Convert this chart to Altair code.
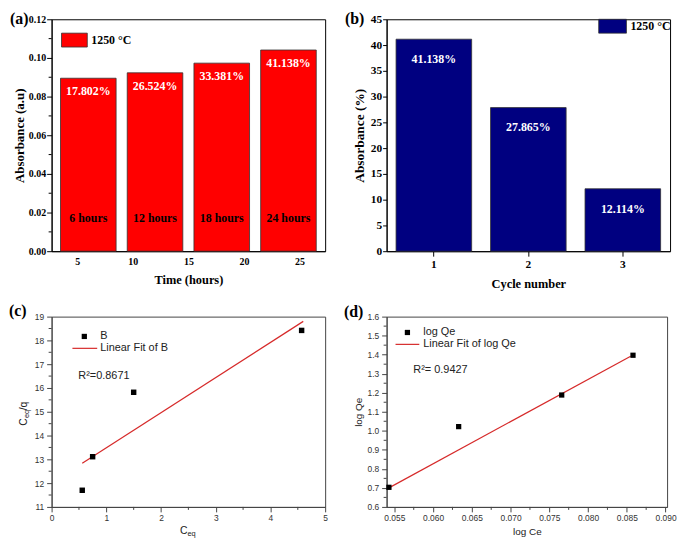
import altair as alt
import pandas as pd

SERIF = "Liberation Serif"
SANS = "Liberation Sans"
RED = "#ff0000"
NAVY = "#000080"
FIT = "#d62a2a"
INK = "#222222"
AX = "#444444"

# ---------------- data ----------------
# (a)
hours = [6, 12, 18, 24]
absorbance_a = [0.0895, 0.0923, 0.0973, 0.1041]
percent_a = ["17.802%", "26.524%", "33.381%", "41.138%"]
hour_labels = ["6 hours", "12 hours", "18 hours", "24 hours"]
a_x_ticks = [5, 10, 15, 20, 25]
a_y_ticks = [0.0, 0.02, 0.04, 0.06, 0.08, 0.10, 0.12]
a_y_minor = [0.01, 0.03, 0.05, 0.07, 0.09, 0.11]
legend_label = ["1250 °C"]

# (b)
cycles = [1, 2, 3]
absorbance_b = [41.138, 27.865, 12.114]
percent_b = ["41.138%", "27.865%", "12.114%"]
b_y_ticks = [0, 5, 10, 15, 20, 25, 30, 35, 40, 45]

# (c)
c_eq = [0.56, 0.75, 1.50, 4.57]
c_eq_q = [11.70, 13.11, 15.82, 18.42]
fit_c_x = [0.56, 4.60]
fit_c_y = [12.84, 18.80]
c_x_ticks = [0, 1, 2, 3, 4, 5]
c_x_minor = [0.5, 1.5, 2.5, 3.5, 4.5]
c_y_ticks = [11, 12, 13, 14, 15, 16, 17, 18, 19]
c_y_minor = [11.5, 12.5, 13.5, 14.5, 15.5, 16.5, 17.5, 18.5]

# (d)
log_ce = [0.0543, 0.0633, 0.0766, 0.0858]
log_qe = [0.703, 1.022, 1.188, 1.397]
fit_d_x = [0.0543, 0.0855]
fit_d_y = [0.700, 1.392]
d_x_ticks = [0.055, 0.060, 0.065, 0.070, 0.075, 0.080, 0.085, 0.090]
d_x_minor = [0.0575, 0.0625, 0.0675, 0.0725, 0.0775, 0.0825, 0.0875]
d_y_ticks = [0.6, 0.7, 0.8, 0.9, 1.0, 1.1, 1.2, 1.3, 1.4, 1.5, 1.6]
d_y_minor = [0.65, 0.75, 0.85, 0.95, 1.05, 1.15, 1.25, 1.35, 1.45, 1.55]

# ---------------- sizes ----------------
WA, HA = 276, 234
WB, HB = 286, 234
WC, HC = 276, 192
WD, HD = 283, 192


def one(text):
    return pd.DataFrame({"t": [text]})


def tag(text, dx, dy):
    return alt.Chart(one(text)).mark_text(
        font=SERIF, fontWeight="bold", fontSize=16, color="black",
        align="left", baseline="middle"
    ).encode(x=alt.value(dx), y=alt.value(dy), text="t:N")


def serif_axis(title, values, fmt=None, ticks=True, tick_size=5, label_size=10,
               title_size=13, label_pad=1, title_pad=1, angle=None):
    kw = dict(title=title, grid=False, domainColor="black",
              domainWidth=1, ticks=ticks, tickSize=tick_size if ticks else 0,
              tickColor="black", tickWidth=1,
              labelFont=SERIF, labelFontWeight="bold", labelFontSize=label_size,
              labelColor="black", labelPadding=label_pad, labelFlush=False,
              labelOverlap=False,
              titleFont=SERIF, titleFontWeight="bold", titleFontSize=title_size,
              titleColor="black", titlePadding=title_pad)
    if values is not None:
        kw["values"] = values
    if fmt:
        kw["format"] = fmt
    if angle is not None:
        kw["labelAngle"] = angle
    return alt.Axis(**kw)


def sans_axis(values, fmt, title=None, label_pad=3, title_pad=2):
    kw = dict(values=values, format=fmt, grid=False, domainColor=AX,
              domainWidth=1, tickColor=AX, tickSize=5, tickWidth=1,
              labelFont=SANS, labelFontSize=8.5, labelColor="#333333",
              labelPadding=label_pad, labelFlush=False, labelOverlap=False,
              titleFont=SANS, titleFontWeight="normal", titleFontSize=10,
              titleColor=INK, titlePadding=title_pad)
    kw["title"] = title
    return alt.Axis(**kw)


# ---------------- panel (a) ----------------
dfa = pd.DataFrame({"hours": hours, "absorbance": absorbance_a,
                    "pct": percent_a, "label": hour_labels})
xa_scale = alt.Scale(domain=[2.7, 27.3], nice=False, zero=False)
ya_scale = alt.Scale(domain=[0, 0.12], nice=False)
xa_axis = serif_axis("Time (hours)", a_x_ticks, ticks=False, label_size=10,
                     title_size=12.5, label_pad=5, title_pad=8)
ya_axis = serif_axis("Absorbance (a.u)", a_y_ticks, fmt=".2f", label_size=10,
                     title_size=13, label_pad=1, title_pad=2)

bars_a = alt.Chart(dfa).transform_calculate(
    x0="datum.hours - 2.5", x1="datum.hours + 2.5"
).mark_bar(color=RED, stroke="#333333", strokeWidth=0.8).encode(
    x=alt.X("x0:Q", scale=xa_scale, axis=xa_axis),
    x2="x1:Q",
    y=alt.Y("absorbance:Q", scale=ya_scale, axis=ya_axis),
    y2=alt.datum(0),
)
pct_text_a = alt.Chart(dfa).mark_text(
    font=SERIF, fontWeight="bold", fontSize=12, color="white",
    baseline="middle", dy=13
).encode(
    x=alt.X("hours:Q", scale=xa_scale, axis=xa_axis),
    y=alt.Y("absorbance:Q", scale=ya_scale, axis=ya_axis),
    text="pct:N",
)
hour_text_a = alt.Chart(dfa).mark_text(
    font=SERIF, fontWeight="bold", fontSize=12, color="black", baseline="middle"
).encode(
    x=alt.X("hours:Q", scale=xa_scale, axis=xa_axis),
    y=alt.value(HA - 33),
    text="label:N",
)
minor_a = alt.Chart(pd.DataFrame({"v": a_y_minor})).mark_rule(
    color="black", strokeWidth=1
).encode(
    y=alt.Y("v:Q", scale=ya_scale, axis=ya_axis),
    x=alt.value(-3), x2=alt.value(0),
)
leg_box_a = alt.Chart(one(legend_label[0])).mark_rect(
    color=RED, stroke="#333333", strokeWidth=0.8
).encode(x=alt.value(10), x2=alt.value(36), y=alt.value(14), y2=alt.value(28))
leg_txt_a = alt.Chart(one(legend_label[0])).mark_text(
    font=SERIF, fontWeight="bold", fontSize=12, color="black",
    align="left", baseline="middle"
).encode(x=alt.value(40), y=alt.value(21), text="t:N")

panel_a = alt.layer(
    bars_a, pct_text_a, hour_text_a, minor_a, leg_box_a, leg_txt_a,
    tag("(a)", -42, 0)
).properties(width=WA, height=HA,
             view=alt.ViewBackground(stroke="black", strokeWidth=1))

# ---------------- panel (b) ----------------
dfb = pd.DataFrame({"cycle": cycles, "absorbance": absorbance_b, "pct": percent_b})
xb_scale = alt.Scale(paddingInner=0.2, paddingOuter=0.1)
yb_scale = alt.Scale(domain=[0, 45], nice=False)
xb_axis = serif_axis("Cycle number", None, tick_size=5, label_size=11.5,
                     title_size=12.5, label_pad=2, title_pad=8, angle=0)
yb_axis = serif_axis("Absorbance (%)", b_y_ticks, tick_size=4, label_size=11.5,
                     title_size=13.5, label_pad=1, title_pad=4)

bars_b = alt.Chart(dfb).mark_bar(color=NAVY, stroke="#333333", strokeWidth=0.8).encode(
    x=alt.X("cycle:O", scale=xb_scale, axis=xb_axis),
    y=alt.Y("absorbance:Q", scale=yb_scale, axis=yb_axis),
)
pct_text_b = alt.Chart(dfb).mark_text(
    font=SERIF, fontWeight="bold", fontSize=12, color="white",
    baseline="middle", dy=20
).encode(
    x=alt.X("cycle:O", scale=xb_scale, axis=xb_axis),
    y=alt.Y("absorbance:Q", scale=yb_scale, axis=yb_axis),
    text="pct:N",
)
leg_box_b = alt.Chart(one(legend_label[0])).mark_rect(
    color=NAVY, stroke="#333333", strokeWidth=0.8
).encode(x=alt.value(WB - 72), x2=alt.value(WB - 44), y=alt.value(0), y2=alt.value(14))
leg_txt_b = alt.Chart(one(legend_label[0])).mark_text(
    font=SERIF, fontWeight="bold", fontSize=12, color="black",
    align="left", baseline="middle"
).encode(x=alt.value(WB - 40), y=alt.value(7), text="t:N")

panel_b = alt.layer(
    bars_b, pct_text_b, leg_box_b, leg_txt_b, tag("(b)", -42, 0)
).properties(width=WB, height=HB,
             view=alt.ViewBackground(stroke="black", strokeWidth=1))

# ---------------- panel (c) ----------------
dfc = pd.DataFrame({"x": c_eq, "y": c_eq_q})
dfc_fit = pd.DataFrame({"x": fit_c_x, "y": fit_c_y})
xc_scale = alt.Scale(domain=[0, 5], nice=False, zero=False)
yc_scale = alt.Scale(domain=[11, 19], nice=False, zero=False)
xc_axis = sans_axis(c_x_ticks, "d", title=None, label_pad=2)
yc_axis = sans_axis(c_y_ticks, "d", title=None, label_pad=3)

pts_c = alt.Chart(dfc).mark_square(size=30, color="black", opacity=1).encode(
    x=alt.X("x:Q", scale=xc_scale, axis=xc_axis),
    y=alt.Y("y:Q", scale=yc_scale, axis=yc_axis),
)
fit_c = alt.Chart(dfc_fit).mark_line(color=FIT, strokeWidth=1.2).encode(
    x=alt.X("x:Q", scale=xc_scale, axis=xc_axis),
    y=alt.Y("y:Q", scale=yc_scale, axis=yc_axis),
)
minor_cx = alt.Chart(pd.DataFrame({"v": c_x_minor})).mark_rule(color=AX).encode(
    x=alt.X("v:Q", scale=xc_scale, axis=xc_axis),
    y=alt.value(HC), y2=alt.value(HC + 3),
)
minor_cy = alt.Chart(pd.DataFrame({"v": c_y_minor})).mark_rule(color=AX).encode(
    y=alt.Y("v:Q", scale=yc_scale, axis=yc_axis),
    x=alt.value(-3), x2=alt.value(0),
)


def sans_text(text, x, y, size=11, align="left", angle=0, color=INK):
    kw = dict(font=SANS, fontSize=size, color=color, align=align, baseline="middle")
    if angle:
        kw["angle"] = angle
    return alt.Chart(one(text)).mark_text(**kw).encode(
        x=alt.value(x), y=alt.value(y), text="t:N")


leg_sq_c = alt.Chart(one("B")).mark_square(size=28, color="black", opacity=1).encode(
    x=alt.value(33), y=alt.value(20))
leg_line_c = alt.Chart(one("fit")).mark_rule(color=FIT, strokeWidth=1.2).encode(
    x=alt.value(21), x2=alt.value(46), y=alt.value(32))

# custom axis titles with subscripts
ybase = HC / 2 + 14
ytitle_c = [
    sans_text("C", -28, ybase, size=10.5, angle=270),
    sans_text("eq", -25, ybase - 7.6, size=7.5, angle=270),
    sans_text("/q", -28, ybase - 15.5, size=10.5, angle=270),
]
xtitle_c = [
    sans_text("C", WC / 2 - 1, HC + 24, size=10.5, align="right"),
    sans_text("eq", WC / 2 - 1, HC + 27, size=7.5, align="left"),
]

panel_c = alt.layer(
    fit_c, pts_c, minor_cx, minor_cy, leg_sq_c, leg_line_c,
    sans_text("B", 49, 20), sans_text("Linear Fit of B", 49, 32),
    sans_text("R²=0.8671", 27, 60),
    *ytitle_c, *xtitle_c,
    tag("(c)", -43, -6)
).properties(width=WC, height=HC,
             view=alt.ViewBackground(stroke=AX, strokeWidth=1))

# ---------------- panel (d) ----------------
dfd = pd.DataFrame({"x": log_ce, "y": log_qe})
dfd_fit = pd.DataFrame({"x": fit_d_x, "y": fit_d_y})
xd_scale = alt.Scale(domain=[0.054, 0.0902], nice=False, zero=False)
yd_scale = alt.Scale(domain=[0.6, 1.6], nice=False, zero=False)
xd_axis = sans_axis(d_x_ticks, ".3f", title="log Ce", label_pad=2, title_pad=4)
yd_axis = sans_axis(d_y_ticks, ".1f", title="log Qe", label_pad=3, title_pad=4)

pts_d = alt.Chart(dfd).mark_square(size=28, color="black", opacity=1).encode(
    x=alt.X("x:Q", scale=xd_scale, axis=xd_axis),
    y=alt.Y("y:Q", scale=yd_scale, axis=yd_axis),
)
fit_d = alt.Chart(dfd_fit).mark_line(color=FIT, strokeWidth=1.2).encode(
    x=alt.X("x:Q", scale=xd_scale, axis=xd_axis),
    y=alt.Y("y:Q", scale=yd_scale, axis=yd_axis),
)
minor_dx = alt.Chart(pd.DataFrame({"v": d_x_minor})).mark_rule(color=AX).encode(
    x=alt.X("v:Q", scale=xd_scale, axis=xd_axis),
    y=alt.value(HD), y2=alt.value(HD + 3),
)
minor_dy = alt.Chart(pd.DataFrame({"v": d_y_minor})).mark_rule(color=AX).encode(
    y=alt.Y("v:Q", scale=yd_scale, axis=yd_axis),
    x=alt.value(-3), x2=alt.value(0),
)
leg_sq_d = alt.Chart(one("log Qe")).mark_square(size=28, color="black", opacity=1).encode(
    x=alt.value(21), y=alt.value(16))
leg_line_d = alt.Chart(one("fit")).mark_rule(color=FIT, strokeWidth=1.2).encode(
    x=alt.value(9), x2=alt.value(33), y=alt.value(28))

panel_d = alt.layer(
    fit_d, pts_d, minor_dx, minor_dy, leg_sq_d, leg_line_d,
    sans_text("log Qe", 37, 16), sans_text("Linear Fit of log Qe", 37, 28),
    sans_text("R²= 0.9427", 27, 54),
    tag("(d)", -43, -5)
).properties(width=WD, height=HD,
             view=alt.ViewBackground(stroke=AX, strokeWidth=1))

chart = alt.concat(
    panel_a, panel_b, panel_c, panel_d,
    columns=2, spacing={"row": 66, "column": 62}, bounds="flush", align="each",
).properties(padding=0)

chart.save("out.html", embed_options={"renderer": "svg", "actions": False})
